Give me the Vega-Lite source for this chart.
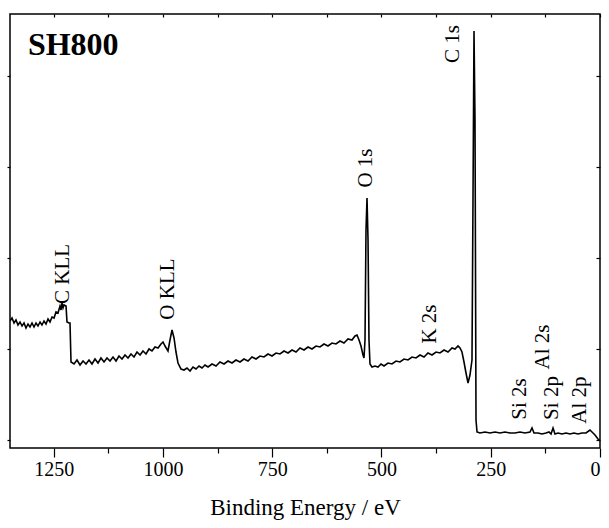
{
  "$schema": "https://vega.github.io/schema/vega-lite/v6.json",
  "width": 590,
  "height": 434,
  "autosize": {"type": "none"},
  "padding": {"left": 10, "top": 14, "right": 9, "bottom": 80},
  "background": "white",
  "config": {
    "view": {"stroke": "black", "strokeWidth": 1.5},
    "font": "Liberation Serif",
    "axis": {"domain": false, "grid": false, "tickColor": "black", "tickWidth": 1.2, "labelColor": "black", "titleColor": "black", "labelFont": "Liberation Serif", "titleFont": "Liberation Serif"}
  },
  "datasets": {
    "spectrum": [
      {"be":1350.0,"i":119},{"be":1345.4,"i":122},{"be":1340.8,"i":117},{"be":1336.3,"i":120},{"be":1331.7,"i":115},{"be":1327.1,"i":118},{"be":1322.5,"i":114},{"be":1317.9,"i":117},{"be":1313.4,"i":112},{"be":1308.8,"i":116},{"be":1304.2,"i":113},{"be":1299.6,"i":117},{"be":1295.1,"i":113},{"be":1290.5,"i":117},{"be":1285.9,"i":114},{"be":1281.3,"i":118},{"be":1276.8,"i":115},{"be":1272.2,"i":119},{"be":1267.6,"i":116},{"be":1263.0,"i":121},{"be":1258.5,"i":118},{"be":1253.9,"i":123},{"be":1249.3,"i":122},{"be":1244.7,"i":128},{"be":1240.2,"i":127},{"be":1235.6,"i":134},{"be":1233.3,"i":130},{"be":1231.0,"i":137},{"be":1228.7,"i":132},{"be":1226.4,"i":135},{"be":1221.8,"i":134},{"be":1219.6,"i":118},{"be":1215.0,"i":117},{"be":1212.7,"i":117},{"be":1210.4,"i":78},
      {"be":1203.5,"i":76},{"be":1196.7,"i":80},{"be":1189.8,"i":75},{"be":1182.9,"i":79},{"be":1176.1,"i":76},{"be":1169.2,"i":80},{"be":1162.4,"i":76},{"be":1155.5,"i":81},{"be":1148.6,"i":77},{"be":1141.8,"i":82},{"be":1134.9,"i":78},{"be":1128.0,"i":82},{"be":1121.2,"i":79},{"be":1114.3,"i":83},{"be":1107.4,"i":79},{"be":1100.6,"i":84},{"be":1093.7,"i":81},{"be":1086.8,"i":85},{"be":1080.0,"i":82},{"be":1073.1,"i":86},{"be":1066.3,"i":83},{"be":1059.4,"i":88},{"be":1052.5,"i":85},{"be":1045.7,"i":89},{"be":1038.8,"i":86},{"be":1031.9,"i":91},{"be":1025.1,"i":89},{"be":1018.2,"i":93},{"be":1011.3,"i":92},{"be":1004.5,"i":96},{"be":999.9,"i":98},{"be":995.3,"i":94},{"be":988.5,"i":89},{"be":983.9,"i":100},{"be":979.3,"i":110},{"be":974.7,"i":102},{"be":970.2,"i":88},{"be":965.6,"i":77},
      {"be":958.7,"i":71},{"be":951.8,"i":70},{"be":945.0,"i":72},{"be":938.1,"i":69},{"be":931.3,"i":73},{"be":924.4,"i":71},{"be":917.5,"i":74},{"be":910.7,"i":72},{"be":903.8,"i":75},{"be":896.9,"i":73},{"be":887.8,"i":76},{"be":878.6,"i":74},{"be":869.5,"i":78},{"be":860.3,"i":76},{"be":851.2,"i":79},{"be":842.0,"i":77},{"be":832.9,"i":80},{"be":823.7,"i":78},{"be":814.6,"i":81},{"be":805.4,"i":79},{"be":796.3,"i":83},{"be":787.1,"i":81},{"be":778.0,"i":84},{"be":768.8,"i":83},{"be":759.6,"i":86},{"be":750.5,"i":84},{"be":741.3,"i":87},{"be":732.2,"i":86},{"be":723.0,"i":89},{"be":713.9,"i":87},{"be":704.7,"i":90},{"be":695.6,"i":88},{"be":686.4,"i":92},{"be":677.3,"i":90},{"be":668.1,"i":93},{"be":659.0,"i":91},{"be":649.8,"i":94},{"be":640.7,"i":93},{"be":631.5,"i":96},{"be":622.4,"i":94},{"be":613.2,"i":97},{"be":604.1,"i":96},{"be":594.9,"i":99},{"be":585.8,"i":97},{"be":576.6,"i":101},{"be":567.5,"i":100},{"be":560.6,"i":104},{"be":556.0,"i":105},{"be":551.4,"i":100},{"be":546.9,"i":94},{"be":542.3,"i":85},{"be":540.0,"i":82},{"be":537.7,"i":100},{"be":535.4,"i":210},{"be":533.1,"i":242},{"be":530.8,"i":200},{"be":528.6,"i":100},{"be":526.3,"i":76},
      {"be":521.7,"i":73},{"be":514.8,"i":74},{"be":508.0,"i":73},{"be":501.1,"i":76},{"be":494.2,"i":74},{"be":485.1,"i":77},{"be":475.9,"i":76},{"be":466.8,"i":79},{"be":457.6,"i":78},{"be":448.5,"i":81},{"be":439.3,"i":80},{"be":430.2,"i":83},{"be":421.0,"i":82},{"be":411.9,"i":85},{"be":402.7,"i":83},{"be":393.6,"i":87},{"be":384.4,"i":85},{"be":375.2,"i":88},{"be":366.1,"i":87},{"be":356.9,"i":90},{"be":347.8,"i":88},{"be":338.6,"i":92},{"be":331.8,"i":91},{"be":324.9,"i":94},{"be":320.3,"i":92},{"be":315.8,"i":88},{"be":311.2,"i":78},{"be":306.6,"i":67},{"be":302.0,"i":57},{"be":297.5,"i":65},{"be":292.9,"i":80},{"be":290.6,"i":240},{"be":288.3,"i":409},{"be":286.0,"i":320},{"be":283.7,"i":20},{"be":281.4,"i":8},
      {"be":274.6,"i":7},{"be":263.1,"i":8},{"be":251.7,"i":7},{"be":240.3,"i":8},{"be":228.8,"i":7},{"be":217.4,"i":8},{"be":205.9,"i":7},{"be":194.5,"i":7},{"be":183.0,"i":8},{"be":171.6,"i":7},{"be":160.2,"i":8},{"be":155.6,"i":12},{"be":151.0,"i":7},{"be":141.9,"i":7},{"be":132.7,"i":6},{"be":123.6,"i":7},{"be":116.7,"i":8},{"be":112.1,"i":6},{"be":107.5,"i":12},{"be":103.0,"i":6},{"be":96.1,"i":7},{"be":86.9,"i":6},{"be":77.8,"i":7},{"be":68.6,"i":6},{"be":59.5,"i":7},{"be":50.3,"i":6},{"be":41.2,"i":7},{"be":32.0,"i":7},{"be":22.9,"i":10},{"be":18.3,"i":8},{"be":11.4,"i":5},{"be":4.6,"i":1},{"be":0.0,"i":-1}
    ],
    "labels": [
      {"be":1229,"i":166,"label":"C KLL"},
      {"be":988,"i":151,"label":"O KLL"},
      {"be":535,"i":272,"label":"O 1s"},
      {"be":336,"i":396,"label":"C 1s"},
      {"be":389,"i":116,"label":"K 2s"},
      {"be":130,"i":93,"label":"Al 2s"},
      {"be":183,"i":41,"label":"Si 2s"},
      {"be":110,"i":42,"label":"Si 2p"},
      {"be":46,"i":40,"label":"Al 2p"}
    ],
    "sample": [
      {"be":1309,"i":395,"label":"SH800"}
    ]
  },
  "layer": [
    {
      "data": {"name": "spectrum"},
      "mark": {"type": "line", "color": "black", "strokeWidth": 1.6, "clip": true, "interpolate": "linear"},
      "encoding": {
        "x": {"field": "be", "type": "quantitative", "scale": {"domain": [0, 1350], "reverse": true, "nice": false, "zero": false},
          "axis": {"orient": "bottom", "values": [0, 250, 500, 750, 1000, 1250], "format": "d", "tickSize": 9, "labelPadding": 2, "labelFontSize": 20, "title": "Binding Energy / eV", "titleFontSize": 23, "titleFontWeight": "normal", "titlePadding": 17}},
        "y": {"field": "i", "type": "quantitative", "scale": {"domain": [-8, 426], "nice": false, "zero": false},
          "axis": {"orient": "left", "values": [0, 91, 182, 273, 364], "tickSize": 3, "labels": false, "title": null}}
      }
    },
    {
      "data": {"name": "labels"},
      "mark": {"type": "text", "angle": 270, "align": "center", "baseline": "middle", "font": "Liberation Serif", "fontSize": 21, "color": "black"},
      "encoding": {
        "x": {"field": "be", "type": "quantitative", "scale": {"domain": [0, 1350], "reverse": true, "nice": false, "zero": false},
          "axis": {"orient": "top", "values": [0, 125, 250, 375, 500, 625, 750, 875, 1000, 1125, 1250], "tickSize": -3, "labels": false, "title": null}},
        "y": {"field": "i", "type": "quantitative", "scale": {"domain": [-8, 426], "nice": false, "zero": false},
          "axis": {"orient": "right", "values": [0, 91, 182, 273, 364], "tickSize": -4, "labels": false, "title": null}},
        "text": {"field": "label", "type": "nominal"}
      }
    },
    {
      "data": {"name": "sample"},
      "mark": {"type": "text", "align": "left", "baseline": "middle", "font": "Liberation Serif", "fontWeight": "bold", "fontSize": 32, "color": "black"},
      "encoding": {
        "x": {"field": "be", "type": "quantitative", "scale": {"domain": [0, 1350], "reverse": true, "nice": false, "zero": false},
          "axis": {"orient": "bottom", "values": [125, 375, 625, 875, 1125], "tickSize": 5, "labels": false, "title": null}},
        "y": {"field": "i", "type": "quantitative", "scale": {"domain": [-8, 426], "nice": false, "zero": false}, "axis": null},
        "text": {"field": "label", "type": "nominal"}
      }
    }
  ],
  "resolve": {"axis": {"x": "independent", "y": "independent"}}
}
